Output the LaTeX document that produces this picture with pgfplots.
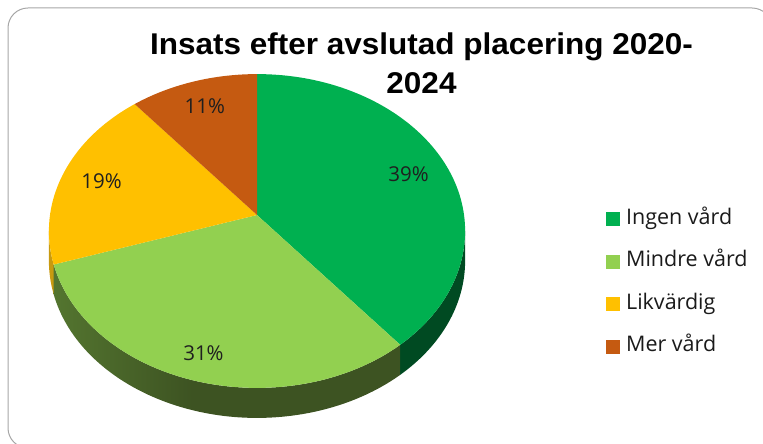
\documentclass[border=0pt]{standalone}
\usepackage{pgfplots}
\pgfplotsset{compat=1.18}
\usepackage{pgfplotstable}
\usepackage{fontspec}
\setmainfont{Open Sans}
\newfontfamily\titlefont{Liberation Sans}[FakeStretch=1.05]

\definecolor{cGreen}{HTML}{00B050}
\definecolor{cLight}{HTML}{92D050}
\definecolor{cYellow}{HTML}{FFC000}
\definecolor{cOrange}{HTML}{C55A11}
\definecolor{sGreen}{HTML}{004A22}
\definecolor{lgA}{HTML}{70A040}
\definecolor{lgB}{HTML}{3D5322}
\definecolor{sYellow}{HTML}{C89A10}
\definecolor{sOrange}{HTML}{7A380A}
\definecolor{frame}{HTML}{A6A6A6}
\pgfdeclarehorizontalshading{lgside}{100bp}{color(0bp)=(lgA); color(45bp)=(lgB); color(100bp)=(lgB)}

\pgfplotstableread[col sep=comma]{
name,value,k
Ingen vård,39,0.8
Mindre vård,31,0.85
Likvärdig,19,0.8
Mer vård,11,0.8
}\piedata

% perspective model of the pie (in bp, y up)
\def\pf{2031}\def\pD{9.81}\def\pc{0.75}
\def\ax{257}\def\ay{229}   % projected centre (apex of slices)
\def\ex{257}\def\ey{213}   % centre of top ellipse
\def\rx{208.1}\def\ry{156.9}\def\yc{-16}
\def\rxd{208.1bp}\def\ryd{156.9bp}\def\depth{30bp}

\newcommand\projXY[2]{%
  \pgfmathsetmacro\pX{\pf*(#2)*cos(#1)/(\pD+(#2)*sin(#1))}%
  \pgfmathsetmacro\pY{\pf*\pc*(#2)*sin(#1)/(\pD+(#2)*sin(#1))}}
\newcommand\paramt[1]{%
  \projXY{#1}{1}%
  \pgfmathsetmacro\ptraw{atan2((\pY-(\yc))/\ry,\pX/\rx)}%
  \pgfmathsetmacro\pd{\ptraw-(#1)}%
  \pgfmathsetmacro\pd{\pd-360*round(\pd/360)}%
  \pgfmathsetmacro\pt{(#1)+\pd}}

\tikzset{
  top0/.style={fill=cGreen}, top1/.style={fill=cLight},
  top2/.style={fill=cYellow}, top3/.style={fill=cOrange},
  side0/.style={fill=sGreen}, side1/.style={shade, shading=lgside},
  side2/.style={fill=sYellow}, side3/.style={fill=sOrange},
}

\begin{document}
\begin{tikzpicture}
\useasboundingbox (0,0) rectangle (763bp,444bp);
% slice angles from the data
\pgfplotstablegetrowsof{\piedata}\pgfmathtruncatemacro\nlast{\pgfplotsretval-1}
\xdef\cum{0}
\foreach \i in {0,...,\nlast}{%
  \pgfplotstablegetelem{\i}{value}\of\piedata \let\v\pgfplotsretval
  \pgfplotstablegetelem{\i}{k}\of\piedata \let\kk\pgfplotsretval
  \pgfmathsetmacro\phiS{90-3.6*\cum}%
  \pgfmathsetmacro\phiE{90-3.6*(\cum+\v)}%
  \pgfmathsetmacro\phiM{(\phiS+\phiE)/2}%
  \paramt{\phiS}\expandafter\xdef\csname tS\i\endcsname{\pt}%
  \paramt{\phiE}\expandafter\xdef\csname tE\i\endcsname{\pt}%
  \projXY{\phiM}{\kk}%
  \pgfmathsetmacro\lx{\ax+\pX}\pgfmathsetmacro\ly{\ay+\pY}%
  \expandafter\xdef\csname lx\i\endcsname{\lx}%
  \expandafter\xdef\csname ly\i\endcsname{\ly}%
  \expandafter\xdef\csname val\i\endcsname{\v}%
  \pgfmathsetmacro\cumn{\cum+\v}\xdef\cum{\cumn}%
}
\begin{axis}[
  at={(0,0)}, anchor=south west,
  width=763bp, height=444bp, scale only axis,
  xmin=0, xmax=763, ymin=0, ymax=444,
  hide axis, clip=false,
  legend image code/.code={\fill[#1] (0bp,-6.5bp) rectangle (13bp,6.5bp);},
  legend cell align=left,
  legend style={draw=none, fill=none, at={(axis cs:606,236)}, anchor=north west,
    inner sep=0pt, row sep=20.5bp,
    font=\fontsize{21.5bp}{25bp}\selectfont\color[HTML]{1A1A1A},
    nodes={inner sep=1bp, text height=15bp, text depth=5bp},
    /tikz/every odd column/.append style={column sep=5.5bp}},
]
\pgfplotsextra{
  \draw[frame, line width=1bp, rounded corners=20bp] (axis cs:8,-4) rectangle (axis cs:772,436);
  % sides
  \foreach \i in {0,...,\nlast}{%
    \pgfmathsetmacro\hi{min(\csname tS\i\endcsname,0)}%
    \pgfmathsetmacro\lo{max(\csname tE\i\endcsname,-180)}%
    \ifdim\hi pt>\lo pt
      \pgfmathsetmacro\sx{\ex+\rx*cos(\hi)}\pgfmathsetmacro\sy{\ey+\ry*sin(\hi)}%
      \path[side\i] (axis cs:\sx,\sy) arc[start angle=\hi, end angle=\lo, x radius=\rxd, y radius=\ryd]
        -- ++(0bp,-\depth) arc[start angle=\lo, end angle=\hi, x radius=\rxd, y radius=\ryd] -- cycle;
    \fi
  }
  % top faces
  \foreach \i in {0,...,\nlast}{%
    \edef\ts{\csname tS\i\endcsname}\edef\te{\csname tE\i\endcsname}%
    \pgfmathsetmacro\sx{\ex+\rx*cos(\ts)}\pgfmathsetmacro\sy{\ey+\ry*sin(\ts)}%
    \fill[top\i] (axis cs:\ax,\ay) -- (axis cs:\sx,\sy)
      arc[start angle=\ts, end angle=\te, x radius=\rxd, y radius=\ryd] -- cycle;
  }
  % data labels
  \foreach \i in {0,...,\nlast}{%
    \node[font=\fontsize{20.5bp}{24bp}\selectfont, text=black!88, inner sep=0pt]
      at (axis cs:\csname lx\i\endcsname,\csname ly\i\endcsname) {\csname val\i\endcsname\%};
  }
  % title
  \node[anchor=base, font=\titlefont\bfseries\fontsize{30bp}{34bp}\selectfont, inner sep=0pt]
    at (axis cs:421.5,389) {Insats efter avslutad placering 2020-};
  \node[anchor=base, font=\titlefont\bfseries\fontsize{30bp}{34bp}\selectfont, inner sep=0pt]
    at (axis cs:421.5,350) {2024};
}
\addlegendimage{cGreen}\addlegendentry{Ingen vård}
\addlegendimage{cLight}\addlegendentry{Mindre vård}
\addlegendimage{cYellow}\addlegendentry{Likvärdig}
\addlegendimage{cOrange}\addlegendentry{Mer vård}
\end{axis}
\end{tikzpicture}
\end{document}
